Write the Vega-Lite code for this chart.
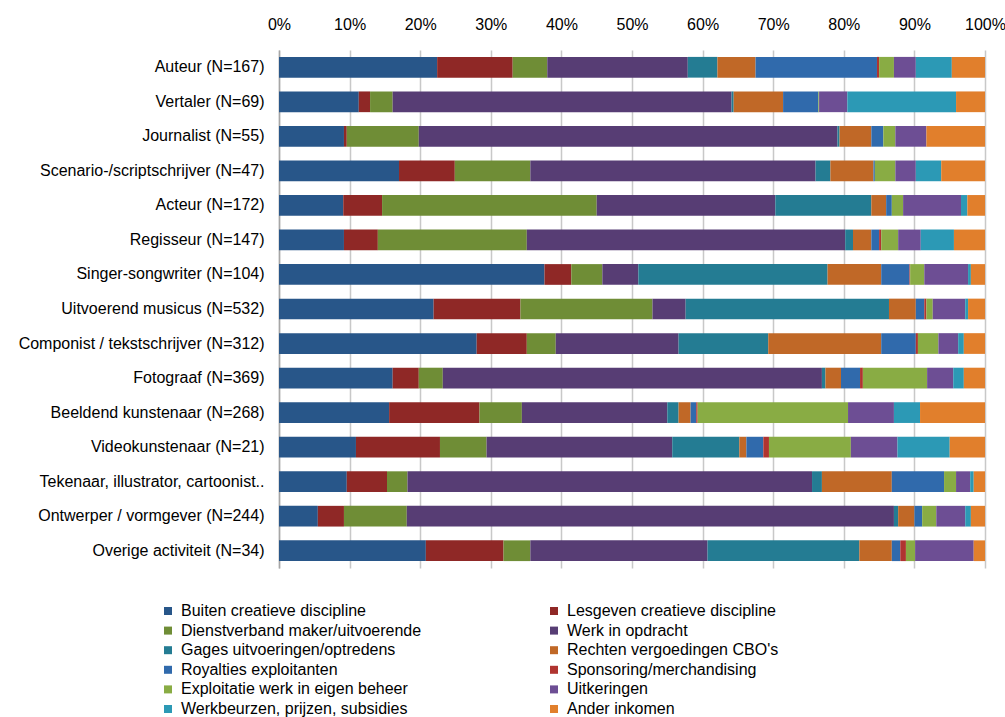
{
  "$schema": "https://vega.github.io/schema/vega-lite/v6.json",
  "width": 706,
  "height": 518,
  "autosize": {"type": "none"},
  "padding": {"left": 279, "top": 50, "right": 20, "bottom": 149},
  "background": "white",
  "config": {
    "view": {"stroke": null},
    "font": "Liberation Sans",
    "axis": {"labelFont": "Liberation Sans", "labelColor": "#000000"},
    "legend": {"labelFont": "Liberation Sans", "labelColor": "#000000"}
  },
  "datasets": {
    "series": [
      {"key": "a", "i": 1, "name": "Buiten creatieve discipline"},
      {"key": "b", "i": 2, "name": "Lesgeven creatieve discipline"},
      {"key": "c", "i": 3, "name": "Dienstverband maker/uitvoerende"},
      {"key": "d", "i": 4, "name": "Werk in opdracht"},
      {"key": "e", "i": 5, "name": "Gages uitvoeringen/optredens"},
      {"key": "f", "i": 6, "name": "Rechten vergoedingen CBO's"},
      {"key": "g", "i": 7, "name": "Royalties exploitanten"},
      {"key": "h", "i": 8, "name": "Sponsoring/merchandising"},
      {"key": "k", "i": 9, "name": "Exploitatie werk in eigen beheer"},
      {"key": "m", "i": 10, "name": "Uitkeringen"},
      {"key": "n", "i": 11, "name": "Werkbeurzen, prijzen, subsidies"},
      {"key": "p", "i": 12, "name": "Ander inkomen"}
    ]
  },
  "data": {
    "values": [
      {"cat": "Auteur (N=167)", "a": 22.4, "b": 10.7, "c": 4.9, "d": 19.9, "e": 4.2, "f": 5.4, "g": 17.2, "h": 0.3, "k": 2.1, "m": 3.1, "n": 5.1, "p": 4.7},
      {"cat": "Vertaler (N=69)", "a": 11.3, "b": 1.6, "c": 3.2, "d": 48.0, "e": 0.3, "f": 7.0, "g": 5.0, "h": 0, "k": 0.1, "m": 4.0, "n": 15.4, "p": 4.1},
      {"cat": "Journalist (N=55)", "a": 9.2, "b": 0.4, "c": 10.2, "d": 59.3, "e": 0.3, "f": 4.5, "g": 1.7, "h": 0, "k": 1.7, "m": 4.4, "n": 0, "p": 8.3},
      {"cat": "Scenario-/scriptschrijver (N=47)", "a": 17.0, "b": 7.9, "c": 10.7, "d": 40.4, "e": 2.1, "f": 6.1, "g": 0.2, "h": 0, "k": 2.9, "m": 2.9, "n": 3.6, "p": 6.2},
      {"cat": "Acteur (N=172)", "a": 9.1, "b": 5.5, "c": 30.4, "d": 25.3, "e": 13.6, "f": 2.1, "g": 0.8, "h": 0, "k": 1.6, "m": 8.2, "n": 0.9, "p": 2.5},
      {"cat": "Regisseur (N=147)", "a": 9.2, "b": 4.8, "c": 21.1, "d": 45.1, "e": 1.1, "f": 2.6, "g": 1.1, "h": 0.3, "k": 2.4, "m": 3.2, "n": 4.7, "p": 4.4},
      {"cat": "Singer-songwriter (N=104)", "a": 37.6, "b": 3.8, "c": 4.4, "d": 5.1, "e": 26.8, "f": 7.6, "g": 4.0, "h": 0.1, "k": 2.0, "m": 6.2, "n": 0.4, "p": 2.0},
      {"cat": "Uitvoerend musicus (N=532)", "a": 21.9, "b": 12.3, "c": 18.7, "d": 4.7, "e": 28.8, "f": 3.8, "g": 1.2, "h": 0.3, "k": 0.9, "m": 4.6, "n": 0.4, "p": 2.4},
      {"cat": "Componist / tekstschrijver (N=312)", "a": 28.0, "b": 7.1, "c": 4.1, "d": 17.4, "e": 12.7, "f": 16.0, "g": 4.9, "h": 0.3, "k": 2.9, "m": 2.8, "n": 0.8, "p": 3.0},
      {"cat": "Fotograaf (N=369)", "a": 16.1, "b": 3.7, "c": 3.4, "d": 53.7, "e": 0.5, "f": 2.2, "g": 2.7, "h": 0.4, "k": 9.1, "m": 3.7, "n": 1.5, "p": 3.0},
      {"cat": "Beeldend kunstenaar (N=268)", "a": 15.6, "b": 12.8, "c": 6.0, "d": 20.6, "e": 1.6, "f": 1.7, "g": 0.8, "h": 0.2, "k": 21.3, "m": 6.5, "n": 3.7, "p": 9.2},
      {"cat": "Videokunstenaar (N=21)", "a": 10.9, "b": 11.9, "c": 6.6, "d": 26.3, "e": 9.5, "f": 1.0, "g": 2.4, "h": 0.8, "k": 11.6, "m": 6.6, "n": 7.4, "p": 5.0},
      {"cat": "Tekenaar, illustrator, cartoonist..", "a": 9.6, "b": 5.7, "c": 2.9, "d": 57.3, "e": 1.4, "f": 9.9, "g": 7.4, "h": 0, "k": 1.7, "m": 2.0, "n": 0.5, "p": 1.6},
      {"cat": "Ontwerper / vormgever (N=244)", "a": 5.5, "b": 3.7, "c": 8.9, "d": 69.0, "e": 0.6, "f": 2.3, "g": 1.1, "h": 0, "k": 2.0, "m": 4.1, "n": 0.8, "p": 2.0},
      {"cat": "Overige activiteit (N=34)", "a": 20.8, "b": 11.0, "c": 3.8, "d": 25.1, "e": 21.5, "f": 4.6, "g": 1.2, "h": 0.8, "k": 1.3, "m": 8.3, "n": 0, "p": 1.6}
    ]
  },
  "transform": [
    {"fold": ["a", "b", "c", "d", "e", "f", "g", "h", "k", "m", "n", "p"], "as": ["key", "v"]},
    {"lookup": "key", "from": {"data": {"name": "series"}, "key": "key", "fields": ["name", "i"]}}
  ],
  "mark": {"type": "bar"},
  "encoding": {
    "y": {
      "field": "cat",
      "type": "nominal",
      "sort": null,
      "scale": {"paddingInner": 0.4, "paddingOuter": 0.2},
      "axis": {
        "title": null,
        "ticks": false,
        "domain": true,
        "domainColor": "#A6A6A6",
        "domainWidth": 1.5,
        "labelFontSize": 16,
        "labelPadding": 15,
        "labelLimit": 400
      }
    },
    "x": {
      "field": "v",
      "type": "quantitative",
      "stack": "normalize",
      "scale": {"domain": [0, 1], "nice": false},
      "axis": {
        "orient": "top",
        "title": null,
        "format": ".0%",
        "values": [0, 0.1, 0.2, 0.3, 0.4, 0.5, 0.6, 0.7, 0.8, 0.9, 1],
        "ticks": false,
        "domain": false,
        "grid": true,
        "gridColor": "#C8C8C8",
        "gridWidth": 1.5,
        "labelFontSize": 16,
        "labelPadding": 18,
        "labelFlush": false
      }
    },
    "color": {
      "field": "name",
      "type": "nominal",
      "scale": {
        "domain": ["Buiten creatieve discipline", "Lesgeven creatieve discipline", "Dienstverband maker/uitvoerende", "Werk in opdracht", "Gages uitvoeringen/optredens", "Rechten vergoedingen CBO's", "Royalties exploitanten", "Sponsoring/merchandising", "Exploitatie werk in eigen beheer", "Uitkeringen", "Werkbeurzen, prijzen, subsidies", "Ander inkomen"],
        "range": ["#285689", "#8F2826", "#6F8D36", "#573D74", "#247C93", "#C06827", "#306AAC", "#B03430", "#89AC44", "#6D4E94", "#2C99B5", "#E17F2C"]
      },
      "legend": {
        "title": null,
        "orient": "none",
        "direction": "horizontal",
        "legendX": -119,
        "legendY": 553,
        "columns": 2,
        "columnPadding": 124,
        "rowPadding": 3.6,
        "symbolType": "square",
        "symbolSize": 64,
        "symbolStrokeWidth": 0,
        "labelFontSize": 16,
        "labelOffset": 5,
        "labelLimit": 400,
        "padding": 0
      }
    },
    "order": {"field": "i", "type": "quantitative", "sort": "ascending"}
  }
}
